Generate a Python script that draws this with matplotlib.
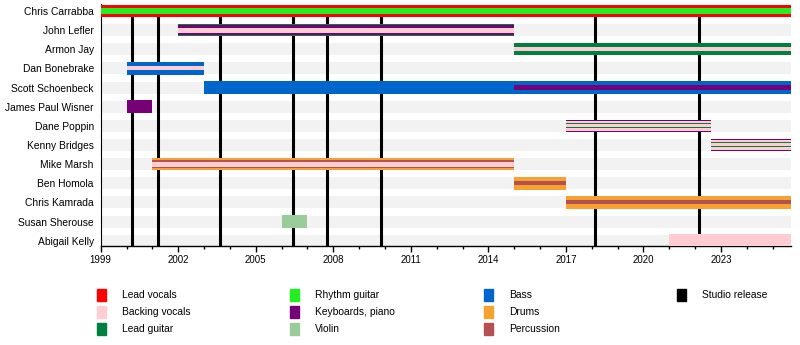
import matplotlib.pyplot as plt
from matplotlib.patches import Rectangle

plt.rcParams['font.family'] = ['Liberation Sans', 'DejaVu Sans']

# ---- data ----
START = 1999
END = 2025.7

members = ["Chris Carrabba", "John Lefler", "Armon Jay", "Dan Bonebrake",
           "Scott Schoenbeck", "James Paul Wisner", "Dane Poppin", "Kenny Bridges",
           "Mike Marsh", "Ben Homola", "Chris Kamrada", "Susan Sherouse", "Abigail Kelly"]

roles = ["Lead vocals", "Backing vocals", "Lead guitar", "Rhythm guitar",
         "Keyboards, piano", "Violin", "Bass", "Drums", "Percussion", "Studio release"]
role_colors = ["#FF0000", "#FFCCD2", "#008040", "#22EE22", "#770077",
               "#99CC99", "#0066CC", "#F7A130", "#B45050", "#000000"]

# studio albums
releases = [2000.2, 2001.2, 2003.6, 2006.45, 2007.75, 2009.85, 2018.13, 2022.17]

# stints, drawn in order (outer colour first, inner stripes after)
stint_member = ["Chris Carrabba", "Chris Carrabba",
                "John Lefler", "John Lefler", "John Lefler",
                "Armon Jay", "Armon Jay",
                "Dan Bonebrake", "Dan Bonebrake",
                "Scott Schoenbeck", "Scott Schoenbeck",
                "James Paul Wisner",
                "Dane Poppin", "Dane Poppin", "Dane Poppin", "Dane Poppin",
                "Kenny Bridges", "Kenny Bridges", "Kenny Bridges", "Kenny Bridges",
                "Mike Marsh", "Mike Marsh", "Mike Marsh",
                "Ben Homola", "Ben Homola",
                "Chris Kamrada", "Chris Kamrada",
                "Susan Sherouse",
                "Abigail Kelly"]
stint_from = [1999, 1999,
              2002, 2002, 2002,
              2015, 2015,
              2000, 2000,
              2003, 2015,
              2000,
              2017, 2017, 2017, 2017,
              2022.6, 2022.6, 2022.6, 2022.6,
              2001, 2001, 2001,
              2015, 2015,
              2017, 2017,
              2006,
              2021]
stint_till = [END, END,
              2015, 2015, 2015,
              END, END,
              2003, 2003,
              END, END,
              2001,
              2022.6, 2022.6, 2022.6, 2022.6,
              END, END, END, END,
              2015, 2015, 2015,
              2017, 2017,
              END, END,
              2007,
              END]
stint_role = ["Lead vocals", "Rhythm guitar",
              "Lead guitar", "Keyboards, piano", "Backing vocals",
              "Lead guitar", "Backing vocals",
              "Bass", "Backing vocals",
              "Bass", "Keyboards, piano",
              "Keyboards, piano",
              "Keyboards, piano", "Backing vocals", "Lead guitar", "Backing vocals",
              "Keyboards, piano", "Backing vocals", "Lead guitar", "Backing vocals",
              "Drums", "Percussion", "Backing vocals",
              "Drums", "Percussion",
              "Drums", "Percussion",
              "Violin",
              "Backing vocals"]

# ---- style ----
ROW_PX = 19.15
stint_px = [12.5, 6,
            12.5, 9.5, 5,
            12.5, 4,
            12.5, 4,
            12.5, 4.5,
            12.5,
            12, 10, 5, 3,
            12, 10, 5, 3,
            12.5, 8.5, 5,
            12.5, 4,
            12.5, 4,
            12.5,
            12.5]

color_of = dict(zip(roles, role_colors))
row_of = {m: i for i, m in enumerate(members)}

fig = plt.figure(figsize=(8, 3.45), dpi=100)
ax = fig.add_axes([0.1259, 0.2884, 0.8625, 0.6994])

# background bands
ax.barh(range(len(members)), END - START, left=START, height=12 / ROW_PX,
        color="#F2F2F2", zorder=1)

ax.vlines(releases, 0, len(members), color="black", lw=2.2, zorder=2)

for m, a, b, role, px in zip(stint_member, stint_from, stint_till, stint_role, stint_px):
    ax.barh(row_of[m], b - a, left=a, height=px / ROW_PX,
            color=color_of[role], zorder=3)

ax.set_xlim(START, END)
ax.set_ylim(len(members) - 0.75, -0.35)
ax.set_yticks(range(len(members)))
ax.set_yticklabels(members, fontsize=7.4)
ax.tick_params(axis="y", length=0, pad=5)
ax.set_xticks(range(1999, 2026, 3))
ax.set_xticks(range(1999, 2026), minor=True)
ax.tick_params(axis="x", which="major", length=4, width=1, labelsize=7, pad=3)
ax.tick_params(axis="x", which="minor", length=2.5, width=1)
ax.spines["top"].set_visible(False)
ax.spines["right"].set_visible(False)
ax.spines["left"].set_linewidth(0.8)
ax.spines["bottom"].set_linewidth(1)

# legend, 4 columns laid out by hand
legend_cols = [roles[0:3], roles[3:6], roles[6:9], roles[9:10]]
col_x = [97, 290, 484, 677]
row_y = [295, 312, 329]
for cx, col in zip(col_x, legend_cols):
    for ry, role in zip(row_y, col):
        fig.patches.append(Rectangle((cx / 800, 1 - (ry + 6) / 345), 9 / 800, 12 / 345,
                                     transform=fig.transFigure, color=color_of[role]))
        fig.text((cx + 25) / 800, 1 - ry / 345, role, fontsize=7.4, va="center")

fig.savefig("out.png", dpi=100)
